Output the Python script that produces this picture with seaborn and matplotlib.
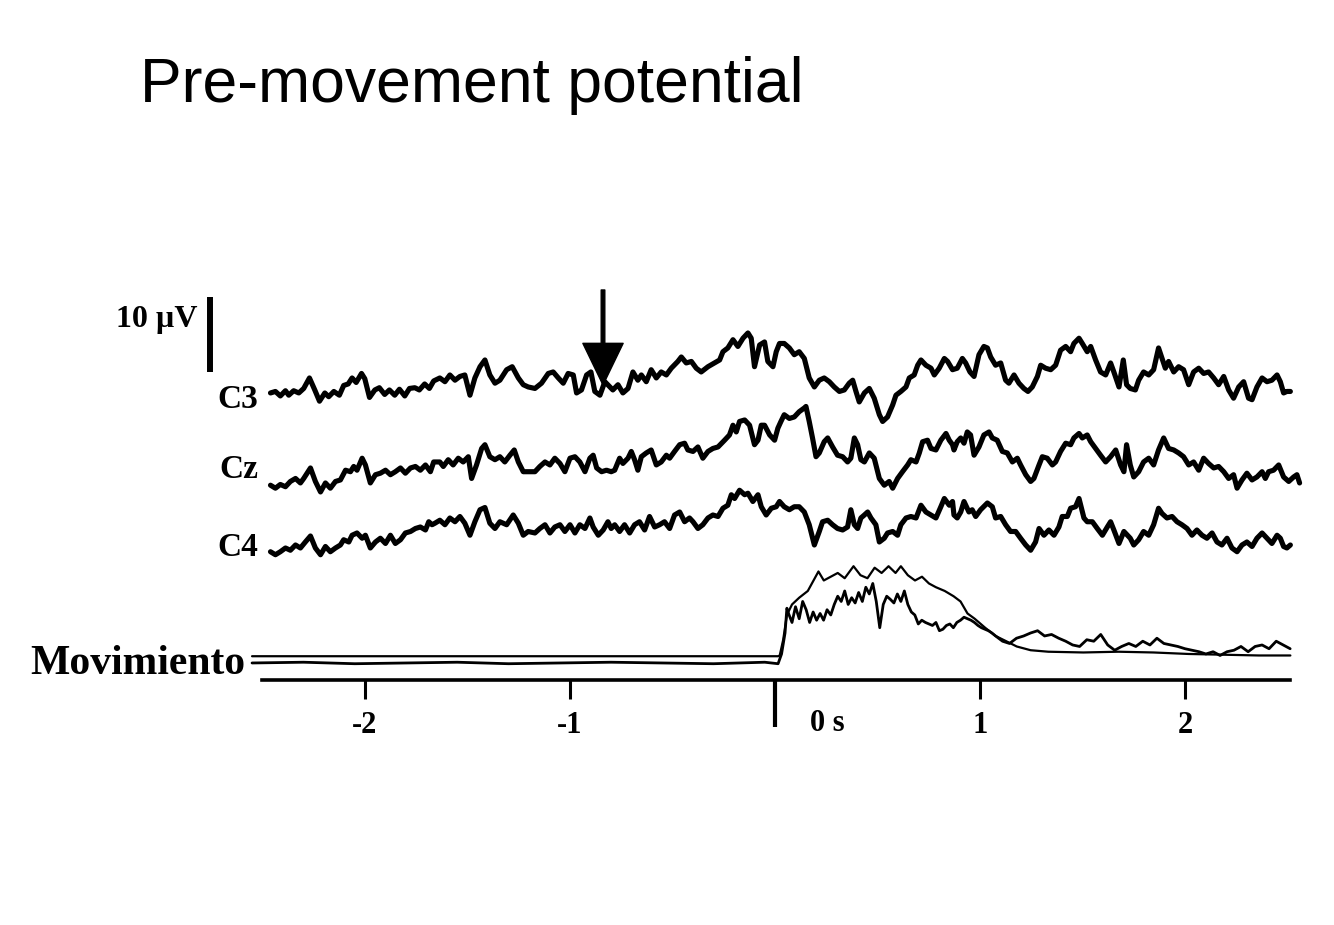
import matplotlib
matplotlib.use('Agg')
import matplotlib.pyplot as plt
import numpy as np
import pandas as pd
import seaborn as sns

# ---- data ---------------------------------------------------------------
# time in s relative to movement onset, amplitude in uV (10 uV scale bar)
c3_t = [-2.461, -2.437, -2.413, -2.388, -2.372, -2.348, -2.323, -2.299, -2.271, -2.245,
        -2.222, -2.196, -2.177, -2.152, -2.125, -2.104, -2.082, -2.063, -2.043, -2.017,
        -2.001, -1.978, -1.952, -1.930, -1.904, -1.881, -1.855, -1.832, -1.806, -1.783,
        -1.757, -1.735, -1.709, -1.686, -1.665,
        -1.635, -1.610, -1.586, -1.561, -1.537, -1.513, -1.488, -1.464, -1.439, -1.415,
        -1.391, -1.366, -1.342, -1.309, -1.282, -1.252, -1.228, -1.204, -1.171, -1.139,
        -1.106, -1.082, -1.057, -1.033, -1.009, -0.984, -0.968, -0.944, -0.919, -0.898,
        -0.879, -0.854, -0.830,
        -0.791, -0.766, -0.742, -0.717, -0.693, -0.669, -0.652, -0.628, -0.604, -0.579,
        -0.555, -0.530, -0.506, -0.474, -0.457, -0.433, -0.408, -0.384, -0.360, -0.327,
        -0.295, -0.270, -0.254, -0.230, -0.205, -0.181, -0.156, -0.132, -0.116, -0.100,
        -0.075, -0.051, -0.035, -0.010, 0.006, 0.022,
        0.045, 0.070, 0.094, 0.118, 0.143, 0.167, 0.192, 0.216, 0.240, 0.265,
        0.289, 0.314, 0.338, 0.362, 0.379, 0.395, 0.411, 0.436, 0.460, 0.484,
        0.509, 0.525, 0.549, 0.574, 0.590, 0.614, 0.639, 0.655, 0.679, 0.696,
        0.712, 0.736, 0.761, 0.777, 0.801, 0.826, 0.842, 0.866,
        0.889, 0.914, 0.930, 0.951, 0.971, 0.995, 1.019, 1.036, 1.052, 1.076,
        1.101, 1.125, 1.141, 1.166, 1.190, 1.214, 1.234, 1.255, 1.280, 1.296,
        1.320, 1.345, 1.369, 1.393, 1.418, 1.442, 1.458, 1.483, 1.499, 1.523,
        1.540, 1.564, 1.588, 1.613, 1.637, 1.653, 1.678, 1.699, 1.715,
        1.733, 1.758, 1.774, 1.798, 1.823, 1.847, 1.871, 1.888, 1.904, 1.920,
        1.945, 1.969, 1.993, 2.018, 2.042, 2.067, 2.091, 2.115, 2.140, 2.164,
        2.189, 2.213, 2.237, 2.262, 2.286, 2.310, 2.327, 2.351, 2.376, 2.400,
        2.424, 2.449, 2.465, 2.481, 2.497, 2.514]
c3_uv = [-0.4, -0.2, -0.8, -0.1, -0.7, -0.1, -0.4, 0.2, 1.6, 0.0,
         -1.5, -0.4, -0.9, -0.2, -0.7, 0.6, 0.8, 1.6, 1.0, 2.2,
         1.5, -1.0, 0.0, 0.3, -0.6, 0.0, -0.7, 0.1, -0.8, 0.2,
         0.3, 0.0, 0.8, 0.2, 1.2,
         1.6, 1.1, 2.0, 1.3, 1.8, 2.0, -0.7, 1.6, 3.1, 4.0,
         2.0, 0.9, 1.3, 2.7, 3.1, 1.6, 0.7, 0.4, 0.2, 0.9,
         2.2, 2.4, 1.6, 0.9, 2.2, 2.0, -0.4, 0.0, 2.0, 2.4,
         -0.2, -0.7, 1.1,
         0.0, 0.7, -0.4, 0.2, 2.4, 1.3, 2.0, 1.1, 2.7, 1.6,
         2.4, 2.0, 2.9, 3.8, 4.4, 3.6, 3.8, 2.9, 2.4, 3.1,
         3.6, 4.0, 5.1, 5.6, 6.7, 5.8, 6.9, 7.6, 6.9, 3.1,
         6.0, 6.4, 3.8, 3.1, 5.1, 6.2,
         6.2, 5.6, 4.7, 5.1, 4.2, 1.6, 0.4, 1.3, 1.6, 1.1,
         0.4, -0.2, 0.0, 0.9, 1.3, -0.2, -1.6, -0.4, 0.2, -1.1,
         -3.3, -4.2, -3.6, -2.0, -0.7, -0.2, 0.4, 1.6, 2.0, 3.3,
         4.0, 3.3, 2.9, 2.0, 2.9, 4.2, 3.8, 2.7,
         2.9, 4.2, 3.6, 2.4, 1.8, 4.7, 5.8, 5.6, 4.4, 3.3,
         3.6, 1.3, 0.9, 2.0, 0.9, 0.2, -0.2, 0.4, 1.8, 3.3,
         2.9, 2.7, 3.3, 5.3, 5.8, 5.1, 6.2, 6.9, 6.2, 5.1,
         5.8, 4.0, 2.4, 2.0, 3.6, 2.4, 0.4, 4.0, 0.7,
         0.2, 0.0, 1.3, 2.4, 2.0, 2.7, 5.6, 4.2, 2.9, 3.8,
         2.4, 3.1, 2.7, 0.7, 2.4, 2.9, 2.2, 2.4, 1.6, 0.7,
         1.8, 0.0, -1.1, 0.4, 1.1, -1.1, -1.3, 0.4, 1.6, 1.1,
         1.3, 2.0, 1.1, -0.4, -0.2, -0.2]

cz_t = [-2.461, -2.437, -2.413, -2.388, -2.364, -2.339, -2.315, -2.299, -2.266, -2.242,
        -2.217, -2.193, -2.169, -2.144, -2.120, -2.095, -2.071, -2.055, -2.039, -2.014,
        -1.998, -1.974, -1.949, -1.925, -1.900, -1.876, -1.852, -1.827, -1.803, -1.778,
        -1.754, -1.730, -1.705, -1.681, -1.665,
        -1.635, -1.618, -1.594, -1.570, -1.545, -1.521, -1.496, -1.480, -1.456, -1.431,
        -1.415, -1.391, -1.366, -1.342, -1.318, -1.293, -1.272, -1.252, -1.228, -1.204,
        -1.171, -1.147, -1.122, -1.098, -1.074, -1.049, -1.025, -1.000, -0.976, -0.952,
        -0.927, -0.903, -0.887, -0.870, -0.846, -0.822,
        -0.799, -0.782, -0.758, -0.742, -0.717, -0.701, -0.685, -0.669, -0.652, -0.628,
        -0.604, -0.579, -0.555, -0.530, -0.514, -0.490, -0.465, -0.441, -0.425, -0.400,
        -0.376, -0.352, -0.327, -0.303, -0.278, -0.246, -0.222, -0.205, -0.189, -0.173,
        -0.148, -0.124, -0.100, -0.083, -0.067, -0.051, -0.026, -0.002, 0.014,
        0.029, 0.045, 0.070, 0.094, 0.118, 0.143, 0.151, 0.167, 0.183, 0.200,
        0.216, 0.240, 0.257, 0.281, 0.305, 0.330, 0.354, 0.370, 0.387, 0.403,
        0.419, 0.436, 0.460, 0.484, 0.509, 0.533, 0.557, 0.574, 0.598, 0.622,
        0.647, 0.663, 0.688, 0.704, 0.720, 0.744, 0.761, 0.785, 0.809, 0.834,
        0.850, 0.866,
        0.873, 0.889, 0.906, 0.922, 0.938, 0.954, 0.971, 0.995, 1.019, 1.044,
        1.060, 1.084, 1.109, 1.133, 1.158, 1.182, 1.198, 1.223, 1.247, 1.263,
        1.288, 1.304, 1.328, 1.353, 1.369, 1.393, 1.418, 1.442, 1.458, 1.483,
        1.499, 1.523, 1.540, 1.564, 1.588, 1.613, 1.637, 1.662, 1.686, 1.702,
        1.715,
        1.733, 1.750, 1.774, 1.798, 1.823, 1.847, 1.871, 1.896, 1.920, 1.945,
        1.969, 1.993, 2.018, 2.042, 2.067, 2.091, 2.115, 2.140, 2.164, 2.189,
        2.213, 2.237, 2.254, 2.278, 2.302, 2.327, 2.351, 2.376, 2.392, 2.408,
        2.432, 2.457, 2.481, 2.506, 2.530, 2.546, 2.559]
cz_uv = [-0.7, -1.1, -0.6, -0.9, -0.2, 0.2, -0.4, 0.2, 1.6, -0.2,
         -1.6, -0.4, -1.1, -0.2, 0.0, 1.3, 1.1, 1.8, 1.3, 2.9,
         2.0, -0.4, 0.7, 0.9, 1.3, 0.7, 1.1, 1.6, 0.9, 1.6,
         1.8, 1.3, 2.0, 1.1, 2.4,
         2.4, 1.8, 2.7, 2.0, 2.9, 2.4, 3.1, 0.2, 2.0, 4.2,
         4.7, 3.1, 2.7, 3.1, 2.4, 3.3, 4.0, 2.4, 1.1, 1.1,
         1.1, 1.8, 2.4, 2.0, 2.9, 2.2, 1.1, 2.9, 3.1, 2.4,
         1.1, 2.9, 3.3, 1.6, 1.1, 1.3,
         1.1, 1.3, 2.9, 2.2, 2.9, 3.8, 2.7, 1.3, 3.1, 3.6,
         4.0, 2.0, 2.4, 3.3, 2.9, 3.8, 4.7, 4.9, 4.0, 3.8,
         4.4, 2.9, 3.8, 4.2, 4.4, 5.3, 6.0, 7.3, 6.4, 7.8,
         8.0, 7.3, 4.7, 5.3, 7.3, 7.3, 6.0, 5.3, 6.9,
         7.8, 8.7, 8.2, 8.4, 9.1, 9.6, 9.8, 7.8, 5.6, 3.1,
         3.6, 5.1, 5.6, 4.4, 3.3, 3.1, 2.4, 2.9, 5.6, 4.7,
         2.7, 2.4, 3.6, 2.9, 0.2, -0.7, -0.2, -1.1, 0.2, 1.1,
         2.0, 2.7, 2.4, 3.6, 5.1, 5.3, 4.2, 4.0, 5.3, 6.2,
         5.3, 4.7,
         4.0, 5.1, 5.6, 4.9, 6.4, 6.0, 3.3, 4.4, 6.0, 6.4,
         5.6, 5.3, 3.8, 3.6, 2.4, 2.9, 2.0, 0.7, -0.2, 0.2,
         2.0, 3.1, 2.9, 2.0, 2.4, 3.8, 4.9, 4.7, 5.6, 6.2,
         5.6, 6.0, 5.1, 4.2, 3.3, 2.4, 3.1, 4.0, 2.0, 1.1,
         4.7,
         2.0, 0.4, 1.1, 2.4, 2.9, 2.0, 4.0, 5.6, 4.2, 4.0,
         3.6, 3.1, 2.0, 2.4, 1.3, 2.9, 2.2, 1.6, 1.8, 1.1,
         0.2, 0.7, -1.1, 0.0, 0.9, 0.0, 0.4, 1.1, 0.2, 1.1,
         1.3, 2.0, 0.4, -0.2, 0.4, 0.7, -0.4]

c4_t = [-2.461, -2.437, -2.413, -2.388, -2.364, -2.339, -2.315, -2.291, -2.266, -2.242,
        -2.217, -2.193, -2.169, -2.144, -2.120, -2.104, -2.079, -2.063, -2.039, -2.014,
        -1.998, -1.974, -1.949, -1.925, -1.900, -1.876, -1.852, -1.827, -1.803, -1.778,
        -1.754, -1.730, -1.705, -1.689, -1.673,
        -1.659, -1.635, -1.610, -1.586, -1.561, -1.537, -1.513, -1.488, -1.464, -1.439,
        -1.415, -1.391, -1.366, -1.342, -1.309, -1.277, -1.252, -1.228, -1.204, -1.171,
        -1.147, -1.122, -1.098, -1.074, -1.049, -1.025, -1.000, -0.976, -0.952, -0.927,
        -0.903, -0.887, -0.862, -0.838,
        -0.815, -0.799, -0.782, -0.758, -0.734, -0.709, -0.685, -0.661, -0.636, -0.612,
        -0.587, -0.563, -0.539, -0.514, -0.490, -0.465, -0.441, -0.417, -0.400, -0.376,
        -0.352, -0.327, -0.303, -0.278, -0.254, -0.230, -0.213, -0.197, -0.173, -0.148,
        -0.132, -0.108, -0.083, -0.067, -0.043, -0.018, 0.006, 0.022,
        0.045, 0.070, 0.094, 0.118, 0.143, 0.167, 0.192, 0.216, 0.232, 0.257,
        0.281, 0.305, 0.330, 0.354, 0.370, 0.387, 0.403, 0.419, 0.436, 0.452,
        0.468, 0.492, 0.509, 0.533, 0.549, 0.574, 0.598, 0.614, 0.639, 0.663,
        0.688, 0.712, 0.736, 0.761, 0.785, 0.809, 0.826, 0.850, 0.866,
        0.873, 0.889, 0.906, 0.922, 0.946, 0.962, 0.979, 1.003, 1.036, 1.060,
        1.076, 1.101, 1.125, 1.149, 1.174, 1.198, 1.223, 1.247, 1.271, 1.288,
        1.312, 1.336, 1.361, 1.385, 1.401, 1.426, 1.442, 1.466, 1.483, 1.507,
        1.523, 1.548, 1.572, 1.597, 1.621, 1.637, 1.653, 1.678, 1.702,
        1.733, 1.750, 1.774, 1.798, 1.823, 1.847, 1.871, 1.888, 1.912, 1.937,
        1.961, 1.985, 2.010, 2.034, 2.058, 2.083, 2.107, 2.132, 2.156, 2.180,
        2.205, 2.229, 2.254, 2.278, 2.302, 2.327, 2.351, 2.376, 2.400, 2.424,
        2.449, 2.465, 2.481, 2.497, 2.514]
c4_uv = [-0.9, -1.3, -0.9, -0.4, -0.7, 0.0, -0.4, 0.4, 1.2, -0.4,
         -1.3, -0.2, -0.9, -0.4, 0.0, 0.7, 0.4, 1.3, 1.6, 0.9,
         1.3, -0.4, 0.4, 0.9, 0.2, 1.3, 0.2, 0.7, 1.6, 1.8,
         2.2, 2.4, 2.0, 3.1, 2.7,
         2.9, 3.3, 2.7, 3.6, 3.1, 3.8, 2.9, 1.3, 3.1, 4.7,
         5.0, 2.9, 2.2, 3.1, 2.7, 4.0, 2.9, 1.3, 1.8, 1.6,
         2.2, 2.7, 1.6, 2.4, 2.7, 1.8, 2.7, 1.6, 2.7, 2.2,
         3.6, 2.4, 1.3, 2.0,
         3.1, 2.2, 2.7, 1.8, 2.7, 1.6, 2.7, 3.1, 2.0, 3.8,
         2.4, 2.7, 3.1, 2.2, 4.0, 4.4, 3.1, 3.6, 3.1, 2.2,
         2.7, 3.6, 4.0, 3.8, 4.9, 5.3, 6.7, 6.2, 7.3, 6.7,
         6.9, 5.8, 6.7, 5.1, 4.0, 4.9, 5.1, 5.8,
         5.1, 4.7, 5.1, 5.1, 4.4, 2.7, 0.0, 1.8, 3.1, 3.3,
         2.7, 2.2, 2.0, 2.4, 4.7, 2.7, 2.2, 3.6, 4.0, 4.4,
         3.6, 2.7, 0.4, 0.9, 1.6, 1.8, 1.3, 2.7, 3.6, 3.8,
         3.6, 5.3, 4.4, 4.0, 3.6, 5.1, 6.2, 5.3, 5.8,
         4.0, 3.6, 4.4, 5.8, 4.4, 4.7, 3.8, 4.7, 5.6, 5.1,
         3.6, 3.8, 2.7, 1.8, 1.8, 0.9, 0.0, -0.7, 0.4, 2.2,
         1.3, 2.0, 1.3, 2.4, 3.8, 3.8, 4.9, 5.1, 6.2, 3.6,
         3.1, 3.1, 2.2, 1.3, 2.4, 3.1, 2.0, 0.2, 1.8,
         0.9, 0.0, 0.7, 1.8, 1.3, 2.7, 4.9, 4.2, 3.6, 3.8,
         3.1, 2.7, 2.2, 1.3, 2.0, 1.3, 0.9, 1.6, 0.4, 0.0,
         0.9, -0.4, -0.9, 0.0, 0.4, -0.2, 0.9, 1.6, 0.9, 0.2,
         1.3, 0.9, -0.2, -0.4, 0.0]

# movement recording, two superimposed sweeps (arbitrary units)
mov_a_t = [-2.551, -1.5, -0.5, 0.015, 0.023, 0.040, 0.058, 0.083, 0.118, 0.160,
           0.212, 0.238, 0.272, 0.306, 0.340, 0.383, 0.417, 0.451, 0.486, 0.520,
           0.554, 0.588, 0.614, 0.648, 0.683, 0.717, 0.751, 0.785, 0.828, 0.871,
           0.905, 0.939, 0.974, 1.025, 1.076, 1.128, 1.179, 1.247, 1.333, 1.504,
           1.675, 1.846, 2.018, 2.189, 2.360, 2.514]
mov_a = [0.9, 0.9, 0.9, 0.9, 1.0, 3.1, 6.4, 7.8, 8.7, 9.6,
         12.2, 11.0, 11.5, 12.0, 11.3, 12.9, 11.7, 11.3, 12.7, 12.0,
         12.9, 12.0, 12.9, 11.7, 11.0, 11.5, 10.6, 10.1, 9.6, 8.9,
         8.2, 6.6, 5.9, 4.7, 3.6, 2.9, 2.2, 1.7, 1.5, 1.4,
         1.5, 1.4, 1.2, 1.1, 1.0, 1.0]

mov_b_t = [-2.551, -2.3, -2.05, -1.8, -1.55, -1.3, -1.05, -0.8, -0.55, -0.3,
           -0.05, 0.015, 0.032, 0.049, 0.058, 0.066, 0.083, 0.100, 0.118, 0.135,
           0.152, 0.169, 0.186, 0.203, 0.220, 0.237, 0.254, 0.272, 0.289, 0.306,
           0.323, 0.340, 0.357, 0.374, 0.391, 0.408, 0.426, 0.443, 0.460, 0.477,
           0.494, 0.511, 0.528, 0.545, 0.562, 0.580, 0.597, 0.614, 0.631, 0.648,
           0.665, 0.682, 0.699, 0.716, 0.734, 0.751, 0.768, 0.785, 0.802, 0.819,
           0.836, 0.853, 0.870, 0.887, 0.905, 0.922, 0.939, 0.956, 0.973, 0.990,
           1.007, 1.024, 1.041, 1.058, 1.076, 1.110, 1.144, 1.178, 1.213, 1.247,
           1.281, 1.315, 1.349, 1.384, 1.418, 1.452, 1.486, 1.521, 1.555, 1.589,
           1.623, 1.657, 1.691, 1.726, 1.760, 1.794, 1.829, 1.863, 1.897, 1.931,
           1.965, 2.000, 2.034, 2.068, 2.102, 2.137, 2.171, 2.205, 2.239, 2.273,
           2.308, 2.342, 2.376, 2.410, 2.445, 2.479, 2.513]
mov_b = [0.0, 0.1, -0.1, 0.0, 0.1, -0.1, 0.0, 0.1, 0.0, -0.1,
         0.1, -0.1, 1.2, 4.0, 7.3, 6.6, 5.4, 7.5, 5.9, 8.2,
         7.1, 5.4, 6.8, 5.7, 6.6, 5.7, 7.1, 6.4, 7.8, 8.9,
         8.2, 9.6, 7.8, 8.7, 8.0, 9.4, 8.2, 10.1, 9.2, 10.6,
         8.2, 4.7, 7.8, 8.9, 8.5, 8.0, 9.2, 8.2, 9.6, 7.8,
         6.8, 6.4, 5.2, 5.7, 5.4, 5.2, 5.0, 5.4, 4.3, 4.5,
         5.0, 5.2, 4.7, 5.4, 5.7, 6.1, 5.9, 5.7, 5.4, 5.0,
         4.7, 4.5, 4.3, 4.0, 3.6, 2.9, 2.6, 3.3, 3.6, 4.0,
         4.3, 3.6, 3.8, 3.3, 2.9, 2.4, 2.2, 3.1, 2.9, 3.8,
         2.4, 1.7, 2.2, 2.6, 2.2, 2.9, 2.4, 3.3, 2.6, 2.4,
         2.2, 1.9, 1.7, 1.5, 1.2, 1.5, 1.0, 1.5, 1.7, 2.2,
         1.5, 2.2, 2.4, 1.9, 2.9, 2.4, 1.9]

tick_vals = [-2, -1, 1, 2]
tick_labels = ['-2', '-1', '1', '2']
scale_uv = 10
arrow_t = -0.839

# ---- layout ---------------------------------------------------------------
W, H = 1334, 925
offsets = {'C3': 38.67, 'Cz': 26.67, 'C4': 18.0, 'mov': 2.27}


def fx(x):
    return x / W


def fy(y):
    return 1 - y / H


sns.set_style('white')
plt.rcParams['font.family'] = ['Liberation Serif', 'DejaVu Serif']
plt.rcParams['font.weight'] = 'bold'
plt.rcParams['text.color'] = 'black'
plt.rcParams['xtick.color'] = 'black'
plt.rcParams['xtick.labelcolor'] = 'black'

fig = plt.figure(figsize=(W / 100, H / 100), dpi=100)
ax = fig.add_axes([180.5 / W, (H - 680) / H, 1137.75 / W, 400 / H])

traces = [
    (c3_t, c3_uv, offsets['C3'], 3.7),
    (cz_t, cz_uv, offsets['Cz'], 3.7),
    (c4_t, c4_uv, offsets['C4'], 3.7),
    (mov_a_t, mov_a, offsets['mov'], 1.6),
    (mov_b_t, mov_b, offsets['mov'], 2.0),
]
for t, v, off, lw in traces:
    df = pd.DataFrame({'t': t, 'v': np.array(v) + off})
    sns.lineplot(data=df, x='t', y='v', ax=ax, color='black', linewidth=lw,
                 estimator=None, sort=False, solid_joinstyle='round')

ax.set_xlim(-2.9, 2.65)
ax.set_ylim(0, 53.33)
ax.set_xlabel('')
ax.set_ylabel('')
ax.set_yticks([])
for side in ['top', 'right', 'left']:
    ax.spines[side].set_visible(False)
ax.spines['bottom'].set_bounds(-2.5, 2.51)
ax.spines['bottom'].set_linewidth(2.6)
ax.spines['bottom'].set_color('black')

ax.set_xticks(tick_vals)
ax.set_xticklabels(tick_labels)
ax.set_xticks([0], minor=True)
ax.tick_params(axis='x', which='major', direction='out', length=14, width=2.2,
               pad=8, labelsize=22, color='black', labelcolor='black', bottom=True)
ax.tick_params(axis='x', which='minor', direction='out', length=34, width=3.0,
               color='black', bottom=True)
ax.annotate('0 s', xy=(0, 0), xycoords=('data', 'axes fraction'),
            xytext=(25, -31), textcoords='offset points',
            ha='left', va='center', fontsize=22, fontweight='bold', color='black')

# 10 uV calibration bar
bar_x, bar_y0 = -2.756, 41.07
ax.vlines(bar_x, bar_y0, bar_y0 + scale_uv, color='black', linewidth=4.3)

# arrow marking the onset of the pre-movement potential
ax.annotate('', xy=(arrow_t, 39.33), xytext=(arrow_t, 52.0),
            arrowprops=dict(facecolor='black', edgecolor='black', width=2.6,
                            headwidth=29, headlength=30, shrink=0))

fig.text(fx(140), fy(102), 'Pre-movement potential', fontsize=45, color='black',
         family='Liberation Sans', fontweight='normal', va='baseline')
fig.text(fx(198), fy(320), '10 \u00b5V', fontsize=23, ha='right', va='center')
fig.text(fx(258), fy(399), 'C3', fontsize=24, ha='right', va='center')
fig.text(fx(258), fy(469), 'Cz', fontsize=24, ha='right', va='center')
fig.text(fx(258), fy(547), 'C4', fontsize=24, ha='right', va='center')
fig.text(fx(30), fy(664), 'Movimiento', fontsize=30, ha='left', va='center')

fig.savefig('out.png', dpi=100)
